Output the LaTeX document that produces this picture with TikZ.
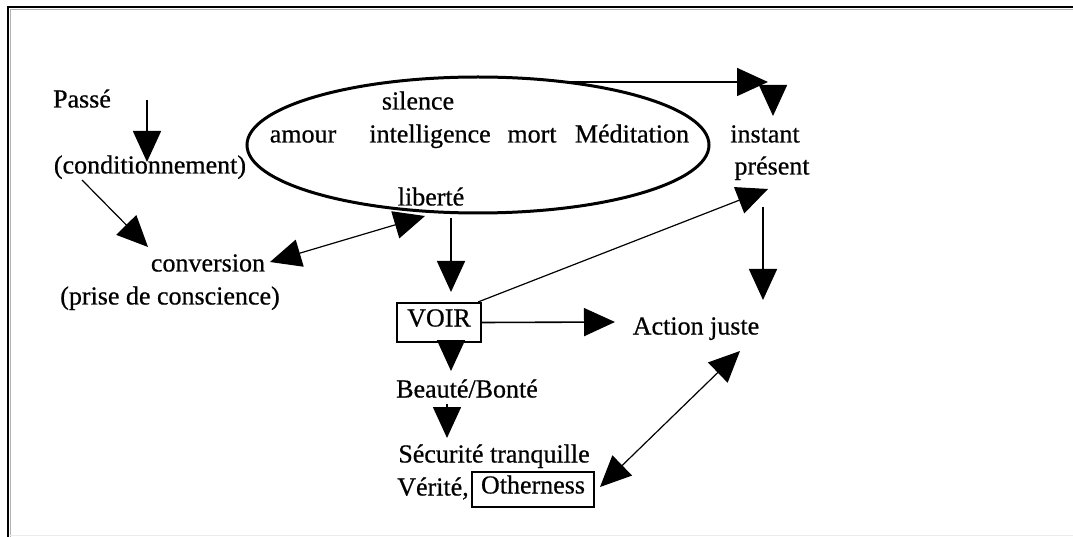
\documentclass[tikz,border=0pt]{standalone}
\usepackage{fontspec}
\setmainfont{Liberation Serif}
\newfontfamily\diagfont{Liberation Serif}[FakeBold=0.6]
\usetikzlibrary{arrows.meta,shapes.geometric}
\begin{document}
\begin{tikzpicture}[x=1pt,y=-1pt,
  txt/.style={inner sep=0pt,yshift=-3pt,font=\diagfont\fontsize{26}{28}\selectfont,text height=0.7em,text depth=0.2em},
  boxed/.style={draw,line width=1.5pt,inner sep=0pt,font=\diagfont\fontsize{26}{28}\selectfont,text height=0.8em,text depth=0em},
  arr/.style={line width=1.6pt,-{Triangle[length=31pt,width=28pt]}},
  darr/.style={line width=1.2pt,{Triangle[length=31pt,width=28pt]}-{Triangle[length=31pt,width=28pt]}},
  tarr/.style={line width=1.2pt,-{Triangle[length=31pt,width=28pt]}}]
\useasboundingbox (0,0) rectangle (1073,537);
\fill[white] (0,0) rectangle (1073,537);
% frame
\draw[gray!60,line width=1pt] (10.5,537) -- (10.5,9.5) -- (1073,9.5);
\draw[black,line width=2.6pt] (8,537) -- (8,7) -- (1073,7);
\draw[gray!15,line width=1.2pt] (10,535.5) -- (1073,535.5);
% nodes
\node[txt] (passe) at (82,102) {Passé};
\node[txt] (cond) at (150,168) {(conditionnement)};
\node[txt] (conv) at (208,266) {conversion};
\node[txt] (prise) at (170,299) {(prise de conscience)};
\node[ellipse,draw,line width=3pt,minimum width=462pt,minimum height=136pt,inner sep=0pt] (ell) at (478,145) {};
\node[txt] (silence) at (418,104) {silence};
\node[txt] (amour) at (303,137) {amour};
\node[txt] (intel) at (430,137) {intelligence};
\node[txt] (mort) at (532,137) {mort};
\node[txt] (medit) at (632,137) {Méditation};
\node[txt] (liberte) at (431,200) {liberté};
\node[txt] (instant) at (765,137) {instant};
\node[txt] (present) at (772,169) {présent};
\node[boxed,minimum width=84pt,minimum height=39pt] (voir) at (439,322.5) {VOIR};
\node[txt] (action) at (696,329) {Action juste};
\node[txt] (beaute) at (467,392) {Beauté/Bonté};
\node[txt] (secur) at (494,457) {Sécurité tranquille};
\node[txt] (verite) at (433,490) {Vérité,};
\node[boxed,minimum width=122pt,minimum height=35pt] (other) at (533,489.5) {Otherness};
% connector end points
\coordinate (pa1) at (147,100);
\coordinate (pa2) at (147,162);
\coordinate (cc1) at (82,180);
\coordinate (cc2) at (148,247);
\coordinate (cl1) at (270,262);
\coordinate (cl2) at (425,216);
\coordinate (ev1) at (451,218);
\coordinate (ev2) at (451,292);
\coordinate (vp1) at (478,302);
\coordinate (vp2) at (768,189);
\coordinate (et1) at (560,82);
\coordinate (et2) at (768,82);
\coordinate (it1) at (773,86);
\coordinate (it2) at (773,116);
\coordinate (pr1) at (763,207);
\coordinate (pr2) at (763,300);
\coordinate (va2) at (615,322);
\coordinate (vb1) at (451,342);
\coordinate (vb2) at (451,371);
\coordinate (bs1) at (447,404);
\coordinate (bs2) at (447,438);
\coordinate (ao1) at (740,351);
\coordinate (ao2) at (600,487);
% connectors
\draw[arr] (pa1) -- (pa2);
\draw[tarr] (cc1) -- (cc2);
\draw[darr] (cl1) -- (cl2);
\draw[arr] (ev1) -- (ev2);
\draw[tarr] (vp1) -- (vp2);
\draw[arr] (et1) -- (et2);
\draw[arr] (it1) -- (it2);
\draw[arr] (pr1) -- (pr2);
\draw[arr] (voir.east) -- (va2);
\draw[arr] (vb1) -- (vb2);
\draw[arr] (bs1) -- (bs2);
\draw[darr] (ao1) -- (ao2);
\end{tikzpicture}
\end{document}
